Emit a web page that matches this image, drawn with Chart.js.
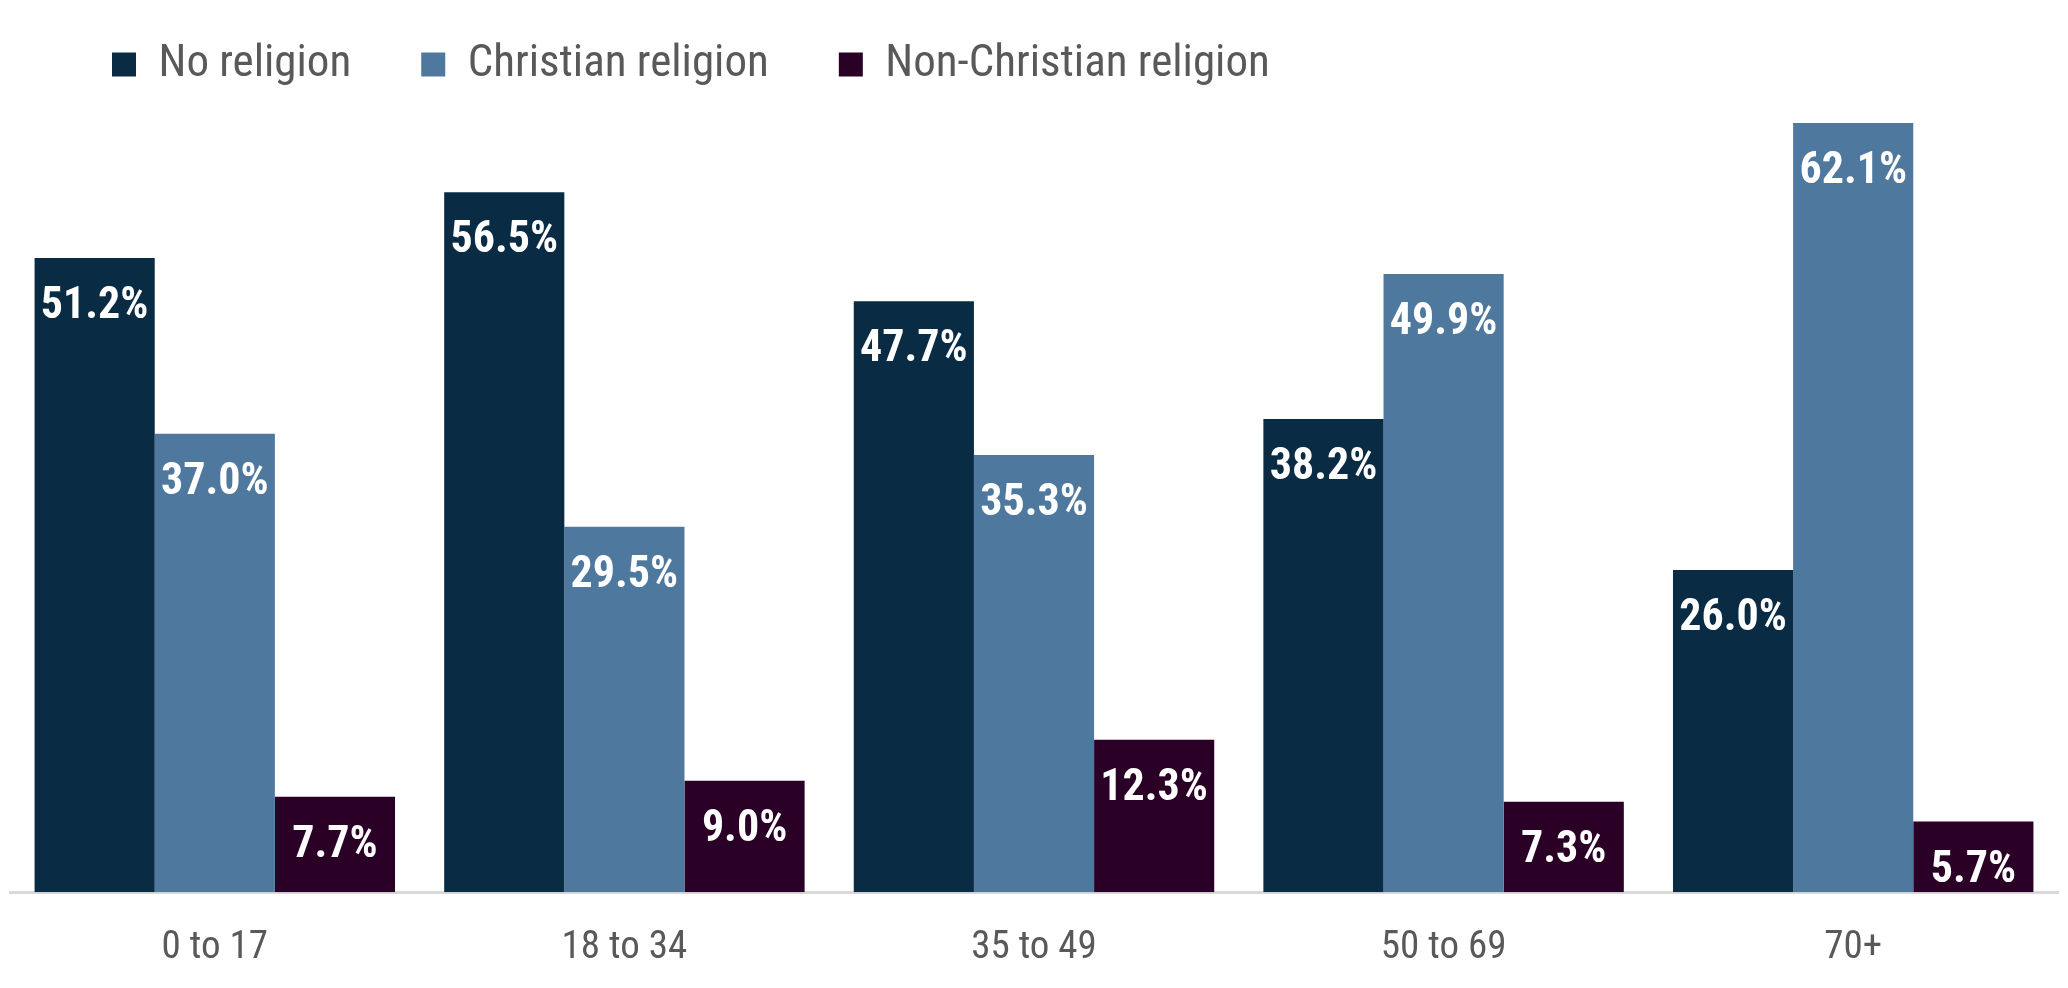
<!DOCTYPE html>
<html lang="en">
<head>
  <meta charset="UTF-8">
  <title>Religion by age group</title>
  <script src="https://cdn.jsdelivr.net/npm/chart.js"></script>
  <style>
    html, body { margin: 0; padding: 0; background: #fff; }
    #wrap { width: 2068px; height: 988px; position: relative; }
  </style>
</head>
<body>
  <div id="wrap"><canvas id="grafico"></canvas></div>

  <script>
    const categorias = ['0 to 17', '18 to 34', '35 to 49', '50 to 69', '70+'];
    const seriesNomes = ['No religion', 'Christian religion', 'Non-Christian religion'];
    const semReligiao = [51.2, 56.5, 47.7, 38.2, 26.0];
    const crista = [37.0, 29.5, 35.3, 49.9, 62.1];
    const naoCrista = [7.7, 9.0, 12.3, 7.3, 5.7];
    const cores = ['#092b44', '#4f789f', '#2b0027'];

    const fonte = "'Roboto Condensed', 'Liberation Sans Narrow', Roboto, sans-serif";

    // rotulos brancos dentro das barras
    const rotulos = {
      id: 'rotulos',
      afterDatasetsDraw(chart) {
        const ctx = chart.ctx;
        ctx.save();
        ctx.fillStyle = '#ffffff';
        ctx.font = 'bold 44px ' + fonte;
        ctx.textAlign = 'center';
        ctx.textBaseline = 'middle';
        chart.data.datasets.forEach((ds, i) => {
          chart.getDatasetMeta(i).data.forEach((bar, j) => {
            ctx.fillText(ds.data[j].toFixed(1) + '%', bar.x, bar.y + 49);
          });
        });
        ctx.restore();
      }
    };

    // empurra a legenda um pouco para a direita
    const moveLegenda = {
      id: 'moveLegenda',
      afterLayout(chart) {
        if (chart.legend) chart.legend.left += 32;
      }
    };

    new Chart(document.getElementById('grafico'), {
      type: 'bar',
      data: {
        labels: categorias,
        datasets: [semReligiao, crista, naoCrista].map((valores, i) => ({
          label: seriesNomes[i],
          data: valores,
          backgroundColor: cores[i],
          borderWidth: 0
        }))
      },
      options: {
        responsive: true,
        maintainAspectRatio: false,
        animation: false,
        layout: { padding: { left: 10, right: 10, top: -28, bottom: -9 } },
        datasets: { bar: { barPercentage: 1, categoryPercentage: 0.88 } },
        plugins: {
          tooltip: { enabled: false },
          legend: {
            align: 'start',
            maxHeight: 115,
            labels: {
              boxWidth: 24,
              boxHeight: 24,
              padding: 70,
              color: '#595959',
              font: { family: fonte, size: 45 }
            }
          }
        },
        scales: {
          x: {
            grid: { display: false },
            border: { display: true, color: '#d9d9d9', width: 3 },
            ticks: { color: '#595959', padding: 25, font: { family: fonte, size: 39 } }
          },
          y: {
            display: false,
            min: 0,
            max: 65
          }
        }
      },
      plugins: [rotulos, moveLegenda]
    });
  </script>
</body>
</html>
